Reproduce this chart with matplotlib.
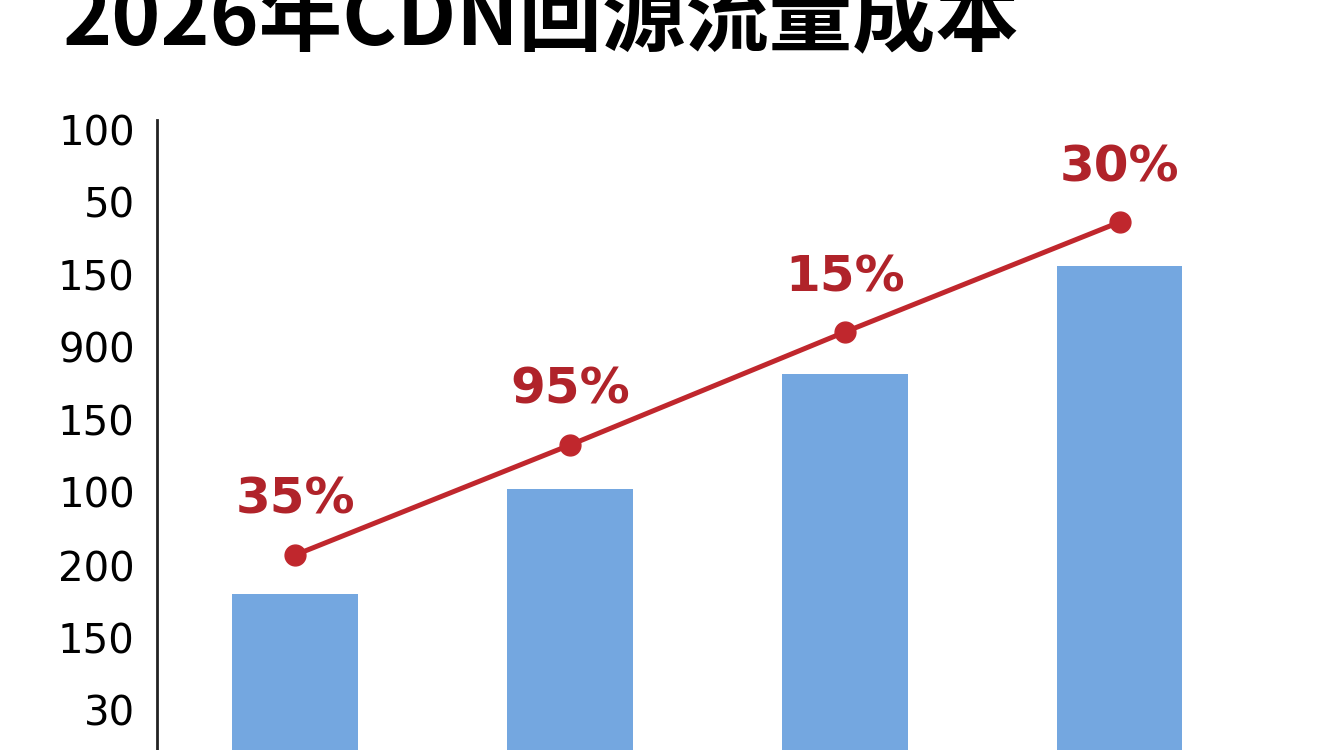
import numpy as np
import matplotlib.pyplot as plt

# data (in the chart's hidden units)
categories = ['A', 'B', 'C', 'D']
bar_values = [156, 261, 376, 484]
line_values = [195, 305, 418, 528]
pct_labels = ['35%', '95%', '15%', '30%']
tick_pos = [40, 112, 184, 258, 330, 403, 475, 548, 620]
tick_labels = ['30', '150', '200', '100', '150', '900', '150', '50', '100']

bar_color = '#74A7E0'
red = '#C0272D'

fig = plt.figure(figsize=(13.44, 7.5), dpi=100, facecolor='white')
ax = fig.add_axes([157/1344, 0, 1 - 157/1344, 1 - 120/750])

x = np.arange(len(categories))
ax.bar(x, bar_values, width=0.455, color=bar_color, zorder=2)
ax.plot(x, line_values, color=red, linewidth=3.6, marker='o', markersize=15,
        zorder=3)
for xi, yi, lab in zip(x, line_values, pct_labels):
    ax.text(xi, yi + 55, lab, ha='center', va='center', fontsize=36,
            fontweight='bold', color='#B0232A', zorder=4)

ax.set_xlim(-0.502, 3.815)
ax.set_ylim(0, 630)
ax.set_xticks([])
ax.set_yticks(tick_pos)
ax.set_yticklabels(tick_labels, fontsize=29)
ax.tick_params(axis='y', length=0, pad=16)
for s in ['top', 'right', 'bottom']:
    ax.spines[s].set_visible(False)
ax.spines['left'].set_linewidth(2)
ax.spines['left'].set_color('#222222')

fig.text(62/1344, 1 - 44/750, '2026年CDN回源流量成本', ha='left', va='baseline',
         fontsize=60, fontweight='bold',
         family=['Noto Sans CJK SC', 'DejaVu Sans'])

fig.savefig('out.png', dpi=100, facecolor='white')
